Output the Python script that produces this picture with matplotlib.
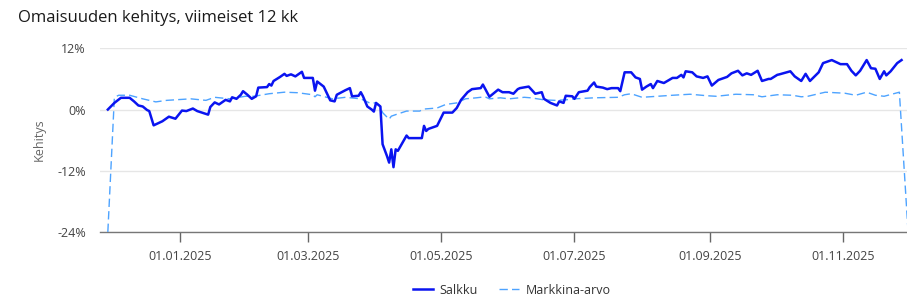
import matplotlib.pyplot as plt
import matplotlib.dates as mdates
import numpy as np

# day offsets relative to 01.01.2025, values in percent
salkku_day: list[int] = [
	-33, -30, -27, -23, -21, -19, -17, -15, -14, -12, -8, -5, -2, 1, 3, 6, 8, 13, 14, 16,
	18, 20, 21, 23, 24, 26, 28, 29, 31, 33, 35, 36, 40, 41, 42, 43, 46, 48, 49, 51,
	53, 56, 57, 61, 62, 63, 66, 67, 69, 71, 72, 76, 78, 79, 82, 83, 84, 86, 88, 89,
	90, 92, 93, 95, 96, 97, 98, 99, 100, 104, 105, 111, 112, 113, 114, 118, 121, 125, 127, 129,
	132, 134, 138, 139, 142, 146, 148, 151, 153, 155, 156, 160, 163, 166, 167, 170, 173, 174, 176, 177,
	180, 181, 183, 187, 188, 190, 191, 194, 196, 198, 201, 202, 204, 207, 209, 211, 212, 214, 216, 217,
	219, 222, 226, 228, 230, 231, 232, 235, 237, 240, 242, 244, 247, 251, 253, 256, 258, 260, 262, 265,
	267, 270, 271, 274, 275, 280, 282, 285, 287, 289, 293, 295, 299, 303, 306, 308, 310, 312, 315, 317,
	319, 321, 323, 324, 326, 329, 331,
]
salkku_value: list[float] = [
	0.0, 1.3, 2.3, 2.3, 1.6, 0.8, 0.6, -0.1, -0.3, -3.1, -2.3, -1.4, -1.8, -0.2, -0.3, 0.2, -0.3, -1.0, 0.5, 1.4,
	1.0, 1.6, 1.9, 1.6, 2.4, 2.1, 2.9, 3.6, 2.9, 2.1, 2.6, 4.3, 4.4, 5.0, 4.7, 5.6, 6.4, 7.0, 6.6, 6.9,
	6.5, 7.4, 6.2, 6.2, 3.7, 5.5, 4.5, 3.6, 1.8, 1.6, 2.9, 3.8, 4.2, 2.6, 2.7, 3.4, 2.6, 0.6, 0.0, -0.4,
	1.3, 0.6, -6.8, -9.1, -10.4, -7.8, -11.3, -7.8, -8.1, -5.1, -5.6, -5.6, -3.2, -4.2, -3.8, -3.2, -0.6, -0.6, 0.3, 1.9,
	3.4, 4.0, 4.2, 4.9, 2.5, 3.9, 3.4, 3.4, 3.1, 4.0, 4.2, 4.5, 3.1, 3.4, 2.1, 1.3, 0.8, 1.6, 1.3, 2.7,
	2.6, 2.1, 3.4, 3.7, 4.4, 5.3, 4.5, 4.3, 4.0, 4.2, 4.2, 3.6, 7.3, 7.3, 6.3, 6.0, 3.9, 4.5, 5.0, 4.2,
	5.6, 5.2, 6.2, 6.2, 6.8, 6.3, 7.5, 7.3, 6.5, 6.2, 6.5, 4.7, 5.8, 6.4, 7.1, 7.6, 6.7, 7.1, 6.8, 7.6,
	5.6, 6.0, 6.0, 6.8, 6.9, 7.5, 6.5, 5.6, 7.0, 5.6, 7.3, 9.1, 9.7, 8.9, 8.9, 7.6, 6.7, 7.6, 9.7, 8.1,
	8.0, 6.0, 7.5, 6.7, 7.5, 9.1, 9.7,
]

markkina_day: list[int] = [
	-33, -30, -28, -23, -17, -11, -6, 5, 12, 16, 23, 30, 34, 41, 48, 54, 61, 62, 63, 70,
	76, 83, 87, 90, 92, 93, 96, 97, 99, 104, 110, 112, 118, 122, 127, 131, 136, 140, 142, 147,
	151, 158, 161, 167, 172, 177, 181, 190, 201, 204, 207, 212, 219, 226, 234, 242, 246, 255, 263, 267,
	274, 281, 285, 288, 296, 305, 310, 315, 319, 323, 330, 334,
]
markkina_value: list[float] = [
	-24.0, 2.4, 2.8, 2.8, 2.1, 1.5, 1.8, 2.1, 1.8, 2.4, 2.1, 2.6, 2.6, 3.1, 3.4, 3.3, 2.9, 2.5, 2.9, 2.1,
	2.4, 2.1, 1.3, 1.3, 0.6, -0.6, -1.9, -1.3, -1.0, -0.3, -0.3, 0.1, 0.3, 1.0, 1.3, 2.1, 2.3, 2.5, 2.1, 2.3,
	2.1, 2.4, 2.3, 1.9, 1.8, 1.9, 2.1, 2.3, 2.4, 2.9, 3.1, 2.4, 2.6, 2.8, 3.0, 2.7, 2.6, 3.0, 2.9, 2.5,
	2.9, 2.8, 2.5, 2.6, 3.4, 3.2, 2.8, 3.4, 2.8, 2.6, 3.4, -24.0,
]

y_ticks: list[float] = [-24, -12, 0, 12]
x_tick_dates: list[str] = ["2025-01-01", "2025-03-01", "2025-05-01", "2025-07-01", "2025-09-01", "2025-11-01"]

title_text: str = "Omaisuuden kehitys, viimeiset 12 kk"
y_label: str = "Kehitys"
salkku_label: str = "Salkku"
markkina_label: str = "Markkina-arvo"


def main():
	plt.rcParams["font.family"] = ["Open Sans", "DejaVu Sans"]

	base = np.datetime64("2025-01-01")
	salkku_dates = base + np.array(salkku_day, dtype="timedelta64[D]")
	markkina_dates = base + np.array(markkina_day, dtype="timedelta64[D]")

	fig = plt.figure(figsize=(9.07, 3.04), dpi=100)
	ax = fig.add_axes([0.110, 0.237, 0.890, 0.604])

	ax.plot(markkina_dates, markkina_value, color="#4da3ff", linewidth=1.0, dashes=(6, 3), label=markkina_label, zorder=3)
	ax.plot(salkku_dates, salkku_value, color="#0a14f0", linewidth=1.8, label=salkku_label, zorder=4)

	x_left = mdates.date2num(base) - 36.7
	x_right = mdates.date2num(base) + 333.5
	ax.set_xlim(x_left, x_right)
	ax.set_ylim(-24, 12)

	ax.set_yticks(y_ticks)
	ax.set_yticklabels([f"{t:g}%" for t in y_ticks])
	ax.set_xticks([mdates.date2num(np.datetime64(d)) for d in x_tick_dates])
	ax.xaxis.set_major_formatter(mdates.DateFormatter("%d.%m.%Y"))

	ax.grid(axis="y", color="#e6e6e6", linewidth=1.0, zorder=0)
	ax.set_axisbelow(True)
	for side in ["top", "right", "left"]:
		ax.spines[side].set_visible(False)
	ax.spines["bottom"].set_color("#777777")
	ax.spines["bottom"].set_linewidth(1.0)
	ax.tick_params(axis="y", length=0, pad=10, labelsize=9, labelcolor="#444444")
	ax.tick_params(axis="x", length=7, width=1, color="#666666", pad=6, labelsize=9, labelcolor="#444444")

	ax.set_ylabel(y_label, fontsize=9, color="#666666", labelpad=8)

	fig.text(0.02, 0.94, title_text, fontsize=12, color="#1a1a1a", fontweight="medium", va="center", ha="left")

	handles, labels = ax.get_legend_handles_labels()
	fig.legend(handles[::-1], labels[::-1], loc="center", bbox_to_anchor=(0.5645, 0.045), ncol=2, frameon=False,
		fontsize=9, handlelength=1.6, columnspacing=1.7, handletextpad=0.5, labelcolor="#333333")

	fig.savefig("out.png", dpi=100)


if __name__ == "__main__":
	main()
